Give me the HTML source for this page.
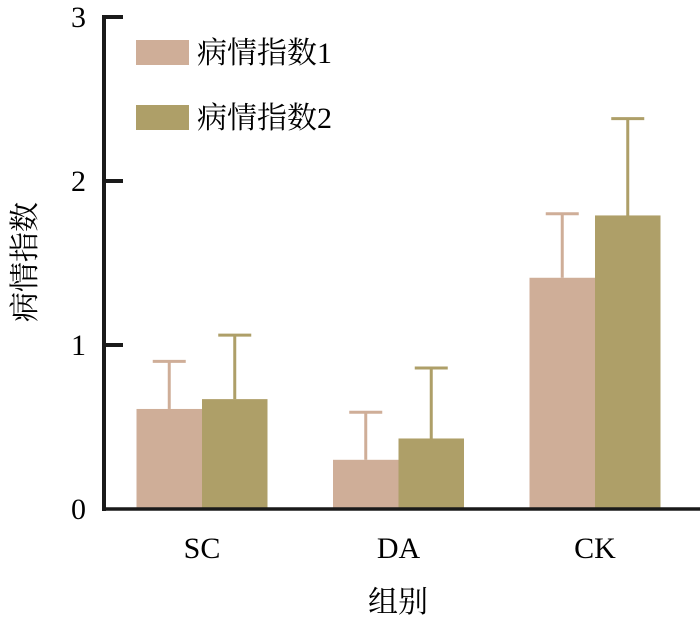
<!DOCTYPE html>
<html><head><meta charset="utf-8"><style>
html,body{margin:0;padding:0;background:#fff;}
svg{display:block;font-family:"Liberation Serif","Noto Serif CJK SC",serif;}
</style></head><body>
<svg id="chart" width="700" height="630">
<g id="bars"></g>
<g id="axes"></g>
<g>
 <rect x="136" y="40" width="53" height="25" fill="#cfae98"/>
 <text x="197" y="63" font-size="30" font-family="Noto Serif CJK SC, serif">病情指数<tspan font-family="Liberation Serif">1</tspan></text>
 <rect x="136" y="105" width="53" height="25" fill="#ae9f68"/>
 <text x="197" y="128" font-size="30" font-family="Noto Serif CJK SC, serif">病情指数<tspan font-family="Liberation Serif">2</tspan></text>
</g>
<text x="0" y="0" transform="translate(35,262) rotate(-90)" text-anchor="middle" font-size="30" font-family="Noto Serif CJK SC, serif">病情指数</text>
<text x="398" y="612" text-anchor="middle" font-size="30" font-family="Noto Serif CJK SC, serif">组别</text>
</svg>
<script>
const categories = ["SC","DA","CK"];
const series1 = [0.61, 0.30, 1.41];
const err1 = [0.29, 0.29, 0.39];
const series2 = [0.67, 0.43, 1.79];
const err2 = [0.39, 0.43, 0.59];
const yTicks = [0,1,2,3];

const NS="http://www.w3.org/2000/svg";
const y0=509, unit=164;
function yScale(v){return y0 - v*unit;}
function xCenter(i){return 202 + i*196.5;}
const bw=65.5;
const bars=document.getElementById('bars');
const axes=document.getElementById('axes');
function mk(tag,attrs,parent){const e=document.createElementNS(NS,tag);for(const k in attrs)e.setAttribute(k,attrs[k]);parent.appendChild(e);return e;}

const seriesList=[[series1,err1,"#cfae98",-1],[series2,err2,"#ae9f68",0]];
categories.forEach((c,i)=>{
  seriesList.forEach(([vals,errs,col,off],s)=>{
    const x=xCenter(i)+off*bw;
    const top=yScale(vals[i]);
    const r=mk('rect',{x:x,y:top,width:bw,height:y0-top,fill:col},bars);
    
    
    const cx=x+bw/2, et=yScale(vals[i]+errs[i]);
    const l=mk('line',{x1:cx,x2:cx,y1:top,y2:et,stroke:col,'stroke-width':3},bars);
    
    
    const cap=mk('line',{x1:cx-16.5,x2:cx+16.5,y1:et,y2:et,stroke:col,'stroke-width':3},bars);
    
    
  });
  const t=mk('text',{x:xCenter(i),y:558,'text-anchor':'middle','font-size':30},axes);
  t.textContent=c;
  
  
});
const ya=mk('line',{x1:104,x2:104,y1:yScale(3)-2,y2:y0+2,stroke:'#1a1a1a','stroke-width':4},axes);


const xa=mk('line',{x1:102,x2:700,y1:y0,y2:y0,stroke:'#1a1a1a','stroke-width':3.5},axes);


yTicks.forEach(v=>{
  const y=yScale(v);
  if(v>0){
    const tk=mk('line',{x1:104,x2:123,y1:y,y2:y,stroke:'#1a1a1a','stroke-width':4},axes);
    
    
  }
  const t=mk('text',{x:86,y:y+10,'text-anchor':'end','font-size':30},axes);
  t.textContent=v;
  
  
});
</script>
</body></html>
